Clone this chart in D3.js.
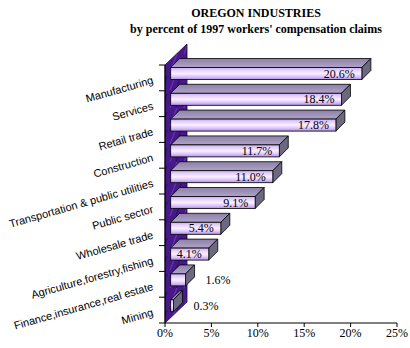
<!DOCTYPE html>
<html>
<head>
<meta charset="utf-8">
<script src="https://cdn.jsdelivr.net/npm/d3@7"></script>
<style>
  body { margin: 0; background: #fff; }
  svg { display: block; }
</style>
</head>
<body>
<svg id="chart" width="410" height="348"></svg>
<script>
const industries = ["Manufacturing", "Services", "Retail trade", "Construction",
  "Transportation & public utilities", "Public sector", "Wholesale trade",
  "Agriculture,forestry,fishing", "Finance,insurance,real estate", "Mining"];
const claimShare = [20.6, 18.4, 17.8, 11.7, 11.0, 9.1, 5.4, 4.1, 1.6, 0.3];
const pctTicks = [0, 5, 10, 15, 20, 25];
const titleLines = ["OREGON INDUSTRIES", "by percent of 1997 workers' compensation claims"];

const svg = d3.select("#chart");
const defs = svg.append("defs");

const x = d3.scaleLinear().domain([0, 25]).range([165, 397]);
const y = d3.scaleBand().domain(industries).range([65, 323]);

// depth of the back wall and of the bars
const wall = { dx: 22, dy: -21 };
const depth = { dx: 9, dy: -9 };
const barShift = 5.7, barTop = 2.5, barH = 12;

// front face gradient
const grad = defs.append("linearGradient").attr("id", "front")
  .attr("x1", 0).attr("y1", 0).attr("x2", 0).attr("y2", 1);
[[0, "#c8aef2"], [0.25, "#e6d4ff"], [0.5, "#fcefff"], [0.75, "#dec6ff"], [1, "#ac90e0"]]
  .forEach(s => grad.append("stop").attr("offset", s[0]).attr("stop-color", s[1]));

const topGrad = defs.append("linearGradient").attr("id", "topface")
  .attr("x1", 0).attr("y1", 0).attr("x2", 0).attr("y2", 1);
[[0, "#8c80a8"], [1, "#b0a4c8"]]
  .forEach(s => topGrad.append("stop").attr("offset", s[0]).attr("stop-color", s[1]));

// streaky texture for the back wall
const pat = defs.append("pattern").attr("id", "wallTex")
  .attr("patternUnits", "userSpaceOnUse").attr("width", 14).attr("height", 18);
pat.append("rect").attr("width", 14).attr("height", 18).attr("fill", "#47188c");
pat.append("path").attr("d", "M2,18 L9,0").attr("stroke", "#6e40b4").attr("stroke-width", 1.2).attr("opacity", 0.7);
pat.append("path").attr("d", "M8,18 L13,4").attr("stroke", "#2e0a66").attr("stroke-width", 1.5).attr("opacity", 0.8);

// back wall
const y0 = y.range()[0], y1 = y.range()[1], xL = x(0);
svg.append("path")
  .attr("d", `M${xL},${y0} L${xL + wall.dx},${y0 + wall.dy} L${xL + wall.dx},${y1 + wall.dy} L${xL},${y1} Z`)
  .attr("fill", "url(#wallTex)")
  .attr("stroke", "#1a0638").attr("stroke-width", 0.8);

// x axis
svg.append("line").attr("x1", x(0)).attr("x2", x(25)).attr("y1", y1).attr("y2", y1)
  .attr("stroke", "#000");
svg.append("g").selectAll("line").data(pctTicks).join("line")
  .attr("x1", d => x(d)).attr("x2", d => x(d)).attr("y1", y1).attr("y2", y1 + 4)
  .attr("stroke", "#000");
svg.append("g").selectAll("text").data(pctTicks).join("text")
  .attr("x", d => x(d)).attr("y", y1 + 14)
  .attr("text-anchor", "middle")
  .style("font-family", "'Liberation Serif', 'Times New Roman', serif")
  .style("font-size", "12px")
  .text(d => d + "%");

// y axis
svg.append("line").attr("x1", xL).attr("x2", xL).attr("y1", y0).attr("y2", y1)
  .attr("stroke", "#000");
svg.append("g").selectAll("line").data(industries.concat([null])).join("line")
  .attr("x1", xL - 6).attr("x2", xL)
  .attr("y1", d => d ? y(d) : y1).attr("y2", d => d ? y(d) : y1)
  .attr("stroke", "#000");

svg.append("g").selectAll("text").data(industries).join("text")
  .attr("transform", d => `translate(154,${y(d) + y.bandwidth() / 2 + 5.5}) rotate(-16)`)
  .attr("text-anchor", "end")
  .style("font-family", "'Liberation Sans', Arial, sans-serif")
  .style("font-size", "11px")
  .text(d => d);

// 3D bars
const rows = industries.map((c, i) => ({ name: c, value: claimShare[i] }));
const bar = svg.append("g").selectAll("g").data(rows).join("g");

bar.each(function(d) {
  const g = d3.select(this);
  const fx = x(0) + barShift, fy = y(d.name) + barTop;
  const w = x(d.value) - x(0);
  g.append("path")
    .attr("d", `M${fx},${fy} L${fx + depth.dx},${fy + depth.dy} L${fx + w + depth.dx},${fy + depth.dy} L${fx + w},${fy} Z`)
    .attr("fill", "url(#topface)").attr("stroke", "#000").attr("stroke-width", 0.8);
  g.append("path")
    .attr("d", `M${fx + w},${fy} L${fx + w + depth.dx},${fy + depth.dy} L${fx + w + depth.dx},${fy + barH + depth.dy} L${fx + w},${fy + barH} Z`)
    .attr("fill", "#6c6880").attr("stroke", "#000").attr("stroke-width", 0.8);
  g.append("rect")
    .attr("x", fx).attr("y", fy).attr("width", w).attr("height", barH)
    .attr("fill", "url(#front)").attr("stroke", "#000").attr("stroke-width", 0.8);

  // short bars carry their label past the end
  const inside = d.value > 3;
  g.append("text")
    .attr("x", inside ? fx + w - 7 : fx + w + 20)
    .attr("y", fy + 10)
    .attr("text-anchor", inside ? "end" : "start")
    .style("font-family", "'Liberation Serif', 'Times New Roman', serif")
    .style("font-size", "12px")
    .text(d.value.toFixed(1) + "%");
});

// title
svg.append("g").selectAll("text").data(titleLines).join("text")
  .attr("x", 256).attr("y", (d, i) => 16.5 + i * 16.5)
  .attr("text-anchor", "middle")
  .style("font-family", "'Liberation Serif', 'Times New Roman', serif")
  .style("font-weight", "bold")
  .style("font-size", "12px")
  .text(d => d);
</script>
</body>
</html>
